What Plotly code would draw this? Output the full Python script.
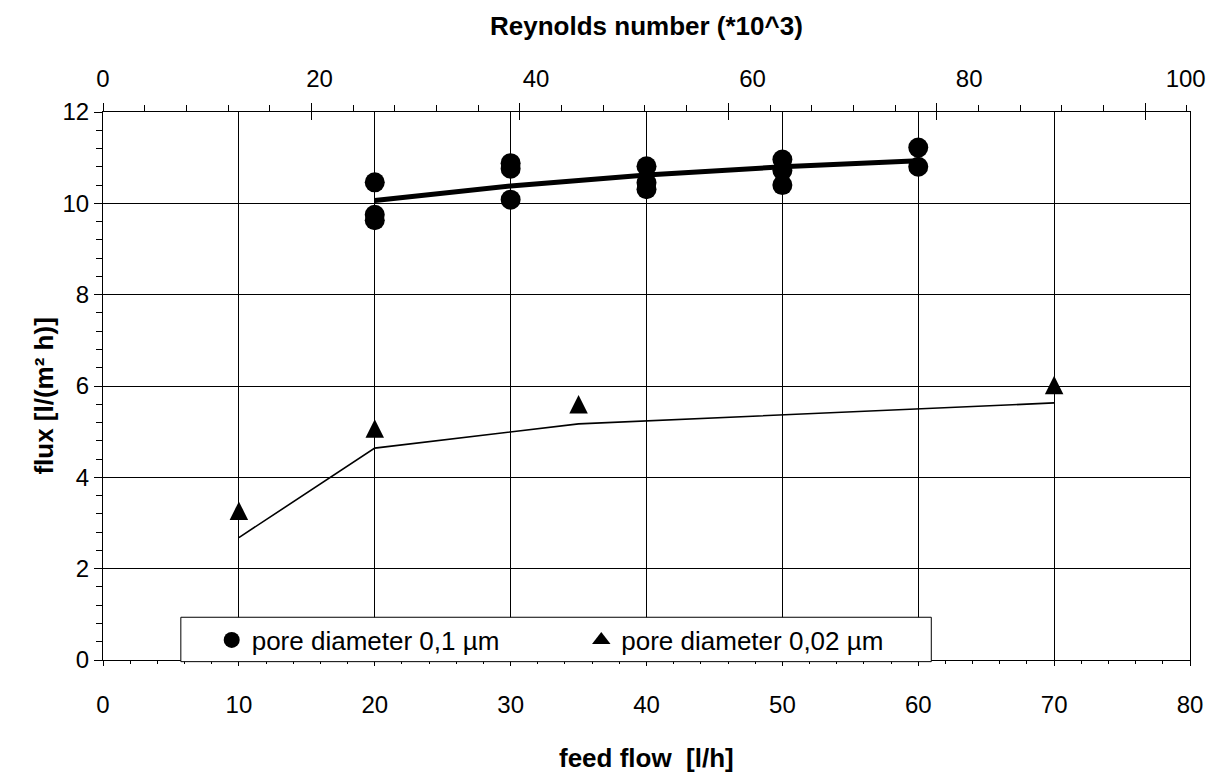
import plotly.graph_objects as go

# ---- data ----
feed_flow_01 = [20, 20, 20, 30, 30, 30, 40, 40, 40, 50, 50, 50, 60, 60]
flux_01 = [10.46, 9.75, 9.63, 10.88, 10.76, 10.08, 10.81, 10.45, 10.31, 10.96, 10.72, 10.40, 11.22, 10.80]
fit_x_01 = [20, 30, 40, 50, 60]
fit_y_01 = [10.06, 10.38, 10.62, 10.80, 10.93]

feed_flow_002 = [10, 20, 35, 70]
flux_002 = [3.27, 5.07, 5.60, 6.02]
fit_y_002 = [2.68, 4.64, 5.17, 5.63]

x_ticks = [0, 10, 20, 30, 40, 50, 60, 70, 80]
y_ticks = [0, 2, 4, 6, 8, 10, 12]
re_ticks = [0, 20, 40, 60, 80, 100]

FONT = "Liberation Sans, Arial, Helvetica, sans-serif"
TRI = 18.5

fig = go.Figure()

fig.add_trace(go.Scatter(x=fit_x_01, y=fit_y_01, mode="lines",
                         line=dict(color="black", width=5), showlegend=False, hoverinfo="skip"))
fig.add_trace(go.Scatter(x=feed_flow_002, y=fit_y_002, mode="lines",
                         line=dict(color="black", width=1.6), showlegend=False, hoverinfo="skip"))
fig.add_trace(go.Scatter(x=feed_flow_01, y=flux_01, mode="markers", name="pore diameter 0,1 µm",
                         marker=dict(symbol="circle", size=20, color="black", line=dict(width=0)),
                         legend="legend"))
fig.add_trace(go.Scatter(x=feed_flow_002, y=flux_002, mode="markers", name="pore diameter 0,02 µm",
                         marker=dict(symbol="arrow-down", angle=180, standoff=TRI / 2, size=TRI,
                                     color="black", line=dict(width=0)),
                         showlegend=False))
# legend entry for the triangles (no data of its own)
fig.add_trace(go.Scatter(x=[None], y=[None], mode="markers", name="pore diameter 0,02 µm",
                         marker=dict(symbol="triangle-up", size=16, color="black", line=dict(width=0)),
                         legend="legend2", hoverinfo="skip"))
# empty traces so the top (Reynolds number) axes get drawn
for ax in ["x2", "x3", "x4"]:
    fig.add_trace(go.Scatter(x=[None], y=[None], xaxis=ax, yaxis="y", mode="markers",
                             showlegend=False, hoverinfo="skip"))

axis_common = dict(showline=True, linecolor="black", linewidth=1, mirror=True,
                   tickfont=dict(family=FONT, size=24, color="black"),
                   gridcolor="black", gridwidth=1, zeroline=False, tickcolor="black")

fig.update_layout(
    width=1218, height=774,
    margin=dict(l=103, r=22, t=112, b=114),
    paper_bgcolor="white", plot_bgcolor="white",
    font=dict(family=FONT, size=24, color="black"),
    xaxis=dict(range=[0, 80], tickmode="array", tickvals=x_ticks,
               ticks="outside", ticklen=5, tickwidth=1,
               minor=dict(dtick=2, tick0=0, ticks="outside", ticklen=3, tickcolor="black", showgrid=False),
               showgrid=True, ticklabelstandoff=18, **axis_common),
    yaxis=dict(range=[0, 12], tickmode="array", tickvals=y_ticks,
               ticks="outside", ticklen=8, tickwidth=1,
               minor=dict(dtick=0.4, tick0=0, ticks="outside", ticklen=6, tickcolor="black", showgrid=False),
               showgrid=True, ticklabelstandoff=0, **axis_common),
    xaxis2=dict(overlaying="x", side="top", anchor="y", range=[0, 104.3],
                tickmode="linear", tick0=0, dtick=20, ticks="outside", ticklen=8, tickcolor="black",
                minor=dict(dtick=4, tick0=0, ticks="outside", ticklen=6, tickcolor="black"),
                showticklabels=False, showgrid=False, zeroline=False, showline=False),
    xaxis3=dict(overlaying="x", side="top", anchor="y", range=[0, 104.3],
                tickmode="linear", tick0=0, dtick=20, ticks="inside", ticklen=8, tickcolor="black",
                showticklabels=False, showgrid=False, zeroline=False, showline=False),
    xaxis4=dict(overlaying="x", side="top", anchor="y", range=[0, 100.4],
                tickmode="array", tickvals=re_ticks, ticks="", showgrid=False, zeroline=False,
                showline=False, tickfont=dict(family=FONT, size=24, color="black"),
                ticklabelstandoff=19),
    legend=dict(x=0.100, y=0.0365, xanchor="left", yanchor="middle", bgcolor="rgba(0,0,0,0)",
                borderwidth=0, font=dict(family=FONT, size=26, color="black")),
    legend2=dict(x=0.440, y=0.0365, xanchor="left", yanchor="middle", bgcolor="rgba(0,0,0,0)",
                 borderwidth=0, font=dict(family=FONT, size=26, color="black")),
    shapes=[dict(type="rect", xref="paper", yref="paper", x0=0.0716, x1=0.762, y0=-0.003, y1=0.078,
                 line=dict(color="black", width=1), fillcolor="white", layer="above")],
    annotations=[
        dict(text="<b>feed flow\u00a0 [l/h]</b>", xref="paper", yref="paper", x=0.5, y=-0.179,
             xanchor="center", yanchor="middle", showarrow=False,
             font=dict(family=FONT, size=26, color="black")),
        dict(text="<b>Reynolds number (*10^3)</b>", xref="paper", yref="paper", x=0.5, y=1.157,
             xanchor="center", yanchor="middle", showarrow=False,
             font=dict(family=FONT, size=26, color="black")),
        dict(text="<b>flux [l/(m² h)]</b>", xref="paper", yref="paper", x=-0.0545, y=0.482,
             xanchor="center", yanchor="middle", showarrow=False, textangle=-90,
             font=dict(family=FONT, size=26, color="black")),
    ],
)

fig.write_html("out.html")
